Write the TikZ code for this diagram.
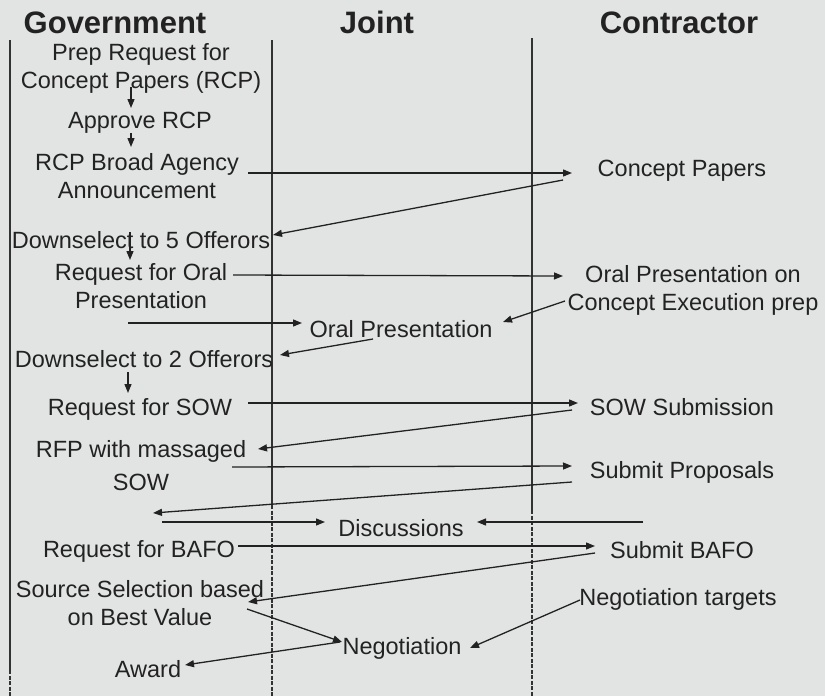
\documentclass[tikz,border=0pt]{standalone}
\usepackage{fontspec}
\setmainfont{Liberation Sans}
\usetikzlibrary{arrows.meta}
\definecolor{bg}{RGB}{226,228,227}
\definecolor{ink}{RGB}{34,34,34}
\definecolor{lane}{RGB}{50,50,50}
\begin{document}
\begin{tikzpicture}[x=1pt,y=-1pt,
  txt/.style={inner sep=0pt,text=ink,font=\fontsize{23.5}{28}\selectfont,align=center},
  one/.style={txt,anchor=base},
  two/.style={txt,anchor=center},
  hdr/.style={inner sep=0pt,anchor=base,text=ink,font=\fontsize{31}{36}\selectfont\bfseries},
  arr/.style={draw=ink,line width=1.3pt,-{Triangle[length=9pt,width=7pt]}},
  plainline/.style={draw=ink,line width=1.3pt},
  lanesolid/.style={draw=lane,line width=1.2pt},
  lanedash/.style={draw=lane,line width=1.2pt,dash pattern=on 4pt off 1.5pt}]
\fill[bg] (0,0) rectangle (825,696);
\useasboundingbox (0,0) rectangle (825,696);
% lanes
\draw[lanesolid] (10,40) -- (10,670);
\draw[lanedash] (10,670) -- (10,696);
\draw[lanesolid] (272,40) -- (272,505);
\draw[lanedash] (272,505) -- (272,696);
\draw[lanesolid] (532,38) -- (532,510);
\draw[lanedash] (532,510) -- (532,696);
% headers
\node[hdr] (gov) at (115,33) {Government};
\node[hdr] (joint) at (377,33) {Joint};
\node[hdr] (contr) at (679,33) {Contractor};
% nodes
\node[two] (prep) at (141,68) {Prep Request for\\Concept Papers (RCP)};
\node[one] (approve) at (140,128) {Approve RCP};
\node[two] (rcpbaa) at (137,176.5) {RCP Broad Agency\\Announcement};
\node[one] (concept) at (682,176) {Concept Papers};
\node[one] (down5) at (141,248) {Downselect to 5 Offerors};
\node[two] (reqoral) at (141,286.5) {Request for Oral\\Presentation};
\node[two] (oralconc) at (693,290) {Oral Presentation on\\Concept Execution prep};
\node[one] (oralpres) at (401,337) {Oral Presentation};
\node[one] (down2) at (144,367) {Downselect to 2 Offerors};
\node[one] (reqsow) at (140,415) {Request for SOW};
\node[one] (sowsub) at (682,415) {SOW Submission};
\node[two] (rfp) at (141,466) {RFP with massaged\\[5pt]SOW};
\node[one] (subprop) at (682,478) {Submit Proposals};
\node[one] (discuss) at (401,536) {Discussions};
\node[one] (reqbafo) at (139,557) {Request for BAFO};
\node[one] (subbafo) at (682,558) {Submit BAFO};
\node[two] (srcsel) at (140,603.5) {Source Selection based\\on Best Value};
\node[one] (negtgt) at (678,605) {Negotiation targets};
\node[one] (negot) at (402,654) {Negotiation};
\node[one] (award) at (148,677) {Award};
\coordinate (cdisc) at (643,522);
% connectors
\draw[arr] ([shift={(-10,19)}]prep.center) -- ([shift={(-9,-20)}]approve.base);
\draw[arr] ([shift={(-9,5)}]approve.base) -- ([shift={(-6,-29.5)}]rcpbaa.center);
\draw[arr] ([shift={(111,-3.5)}]rcpbaa.center) -- ([shift={(-110,-3)}]concept.base);
\draw[arr] ([shift={(-119,4)}]concept.base) -- ([shift={(132,-13)}]down5.base);
\draw[arr] ([shift={(-11,-16)}]down5.base) -- ([shift={(-11,-26.5)}]reqoral.center);
\draw[arr] ([shift={(92,-11.5)}]reqoral.center) -- ([shift={(-130,-14)}]oralconc.center);
\draw[arr] ([shift={(-13,36.5)}]reqoral.center) -- ([shift={(-99,-14)}]oralpres.base);
\draw[arr] ([shift={(-128,11)}]oralconc.center) -- ([shift={(102,-15)}]oralpres.base);
\draw[arr] ([shift={(-28,2)}]oralpres.base) -- ([shift={(136,-12)}]down2.base);
\draw[arr] ([shift={(-16,5)}]down2.base) -- ([shift={(-12,-22)}]reqsow.base);
\draw[arr] ([shift={(108,-12)}]reqsow.base) -- ([shift={(-104,-12)}]sowsub.base);
\draw[arr] ([shift={(-110,-5)}]sowsub.base) -- ([shift={(117,-17)}]rfp.center);
\draw[arr] ([shift={(91,1)}]rfp.center) -- ([shift={(-110,-12)}]subprop.base);
\draw[arr] ([shift={(-110,4)}]subprop.base) -- ([shift={(12,47)}]rfp.center);
\draw[arr] ([shift={(21,56)}]rfp.center) -- ([shift={(-76,-14)}]discuss.base);
\draw[arr] (cdisc) -- ([shift={(76,-14)}]discuss.base);
\draw[arr] ([shift={(99,-11)}]reqbafo.base) -- ([shift={(-87,-12)}]subbafo.base);
\draw[arr] ([shift={(-87,-5)}]subbafo.base) -- ([shift={(108,-1.5)}]srcsel.center);
\draw[arr] ([shift={(107,5.5)}]srcsel.center) -- ([shift={(-60,-12)}]negot.base);
\draw[arr] ([shift={(-98,-5)}]negtgt.base) -- ([shift={(68,-6)}]negot.base);
\draw[arr] ([shift={(-62,-12)}]negot.base) -- ([shift={(37,-12)}]award.base);
\end{tikzpicture}
\end{document}
